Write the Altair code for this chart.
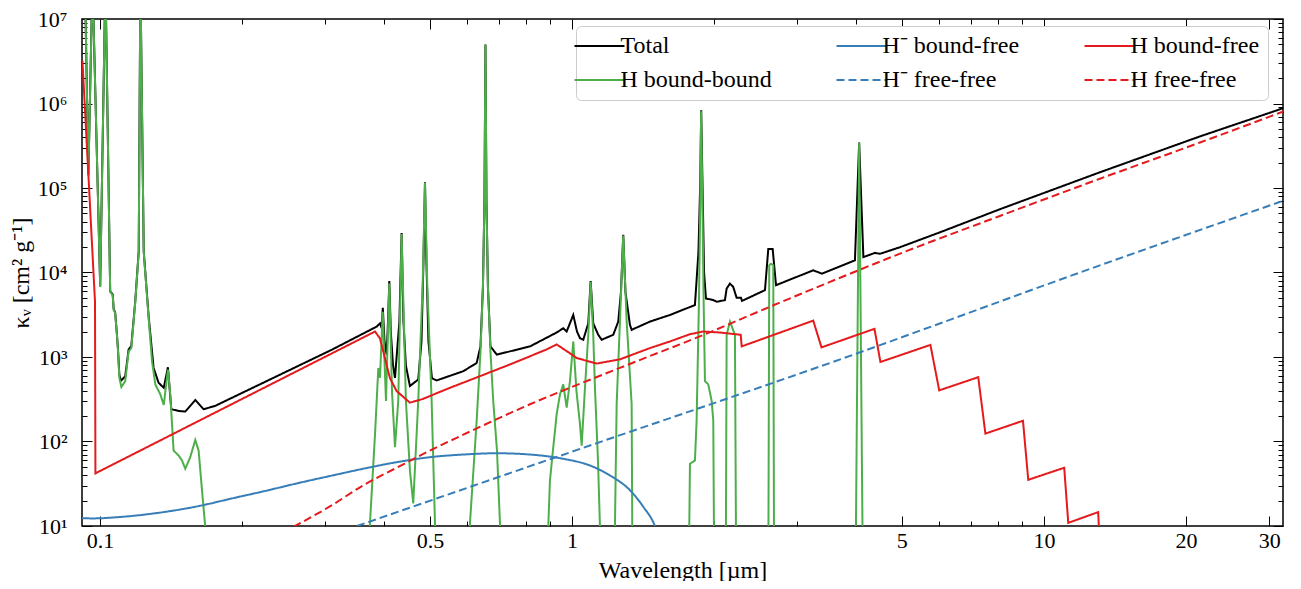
import altair as alt
import pandas as pd

# ---------------- data ----------------
total_lam = [0.0916, 0.0929, 0.0945, 0.0964, 0.1001, 0.1027, 0.1051, 0.1064, 0.1069, 0.1077,
             0.1086, 0.1092, 0.1099, 0.1105, 0.1110, 0.1131, 0.1150, 0.1165, 0.1188, 0.1208,
             0.1218, 0.1238, 0.1268, 0.1299, 0.1331, 0.1365, 0.1393, 0.1416, 0.1468, 0.1516,
             0.1592, 0.1658, 0.1754, 0.3101, 0.3858, 0.3920, 0.3953, 0.3974, 0.4007, 0.4049,
             0.4076, 0.4102, 0.4132, 0.4177, 0.4217, 0.4309, 0.4356, 0.4395, 0.4448, 0.4536,
             0.4724, 0.4799, 0.4846, 0.4882, 0.4916, 0.4965, 0.5050, 0.5167, 0.5885, 0.6282,
             0.6400, 0.6477, 0.6525, 0.6557, 0.6590, 0.6637, 0.6719, 0.6929, 0.8149, 0.9281,
             0.9585, 0.9745, 1.0064, 1.0247, 1.0398, 1.0567, 1.0828, 1.0955, 1.1094, 1.1368,
             1.1559, 1.2231, 1.2534, 1.2701, 1.2842, 1.2980, 1.3269, 1.3380, 1.463, 1.613,
             1.822, 1.8535, 1.8698, 1.8784, 1.8902, 1.905, 1.9226, 1.9925, 2.026, 2.109,
             2.1268, 2.1613, 2.196, 2.233, 2.281, 2.292, 2.564, 2.606, 2.662, 2.706,
             3.245, 3.384, 3.977, 4.0597, 4.144, 4.385, 4.493, 4.955, 6.022, 8.068,
             13.14, 21.41, 32.14]
total_kap = [3e7, 3e7, 1.45e5, 3e7, 6900, 3e7, 6000, 5500, 3700, 3350,
             1880, 1220, 620, 545, 530, 590, 1230, 1340, 4650, 1.78e4,
             3e7, 1.78e4, 3000, 742, 495, 432, 757, 241, 230, 226,
             310, 241, 264, 1221, 2292, 2506, 2189, 3832, 1528, 1067,
             2624, 7900, 2003, 790, 567, 2624, 2.93e4, 2624, 790, 453,
             542, 1528, 1.37e4, 1.17e5, 1.37e4, 1528, 560, 528, 679, 850,
             1335, 6760, 7.0e4, 5.0e6, 7.0e4, 6760, 1335, 1067, 1335, 1950,
             2189, 2003, 3145, 2003, 1671, 1600, 2500, 7900, 2500, 1831,
             1600, 1831, 2624, 5905, 2.8e4, 5905, 2400, 2097, 2624, 3145,
             4121, 1.74e4, 1.156e5, 8.3e5, 1.156e5, 1.0e4, 4926, 4717, 4506, 4717,
             6456, 7388, 6760, 5020, 5020, 4610, 6182, 1.9e4, 1.9e4, 7075,
             1.062e4, 9683, 1.391e4, 3.45e5, 1.521e4, 1.708e4, 1.663e4, 1.993e4, 2.99e4, 5.61e4,
             1.535e5, 4.08e5, 8.8e5]

hbb_lam = [0.0916, 0.0929, 0.0945, 0.0964, 0.1001, 0.1027, 0.1051, 0.1064, 0.1069, 0.1077,
           0.1086, 0.1092, 0.1099, 0.1110, 0.1131, 0.1150, 0.1165, 0.1188, 0.1208, 0.1218,
           0.1238, 0.1268, 0.1289, 0.1310, 0.1342, 0.1365, 0.1393, 0.1409, 0.1421, 0.1432,
           0.1468, 0.1492, 0.1516, 0.1553, 0.1592, 0.1618, 0.1645, 0.1671, 0.1685,
           0.3706, 0.3733, 0.3826, 0.3888, 0.3920, 0.3972, 0.4036, 0.4102, 0.4156, 0.4217,
           0.4285, 0.4356, 0.4448, 0.4536, 0.4610, 0.4724, 0.4827, 0.4882, 0.4937, 0.5043,
           0.5126, 0.5149,
           0.6050, 0.6080, 0.6282, 0.6400, 0.6477, 0.6525, 0.6557, 0.6590, 0.6637, 0.6719,
           0.6811, 0.6937, 0.7038, 0.7072,
           0.8811, 0.8908, 0.8982, 0.9129, 0.9281, 0.9432, 0.9585, 0.9745, 0.9903, 1.0064,
           1.0222, 1.0398, 1.0485, 1.0655, 1.0828, 1.0955, 1.1094, 1.1187, 1.1353, 1.1464,
           1.1520,
           1.2303, 1.2333, 1.2436, 1.2637, 1.2842, 1.3060, 1.3380, 1.3420, 1.3451,
           1.7655, 1.7724, 1.7783, 1.8220, 1.837, 1.858, 1.870, 1.878, 1.890, 1.901,
           1.9133, 1.9444, 1.9770, 1.9925, 1.9990, 2.0039,
           2.1142, 2.1195, 2.1268, 2.1613, 2.2146, 2.2255, 2.2309,
           2.6019, 2.6081, 2.6182, 2.6400, 2.6699, 2.6791, 2.6853,
           3.9866, 3.9966, 4.0597, 4.1258, 4.1355]
hbb_kap = [3e7, 3e7, 1.4e5, 3e7, 6760, 3e7, 5905, 5400, 3628, 3284,
           1831, 1166, 567, 441, 518, 1166, 1275, 4506, 1.74e4, 3e7,
           1.74e4, 2870, 890, 474, 362, 271, 711, 362, 161, 78.1,
           68.2, 59.6, 47.6, 65.2, 104.3, 78.1, 26.5, 9.8, 3,
           3, 10.8, 122.6, 742, 567, 3438, 302, 7388, 395, 85.4,
           302, 2.856e4, 302, 45.5, 18.5, 302, 7075, 1.156e5, 7075, 302,
           10.8, 3,
           3, 10.8, 176, 1166, 6760, 6.73e4, 4.95e6, 6.73e4, 6760, 1166,
           302, 78.1, 10.8, 3,
           3, 9.8, 34.7, 85.4, 210.6, 362, 474, 252, 518, 1528,
           395, 161, 89.4, 432, 1831, 7740, 1831, 432, 59.6, 9.8,
           3,
           3, 9.8, 276, 2624, 2.735e4, 2624, 276, 9.8, 3,
           3, 9.8, 54.5, 59.6, 176, 4506, 6.73e4, 8.09e5, 6.73e4, 4506,
           518, 474, 302, 176, 9.8, 3,
           3, 9.8, 1831, 2624, 1831, 9.8, 3,
           3, 9.8, 1.215e4, 1.269e4, 1.215e4, 9.8, 3,
           3, 9.8, 3.41e5, 9.8, 3]

hmbf_lam = [0.0916, 0.0962, 0.1124, 0.1375, 0.1618, 0.1904, 0.2240, 0.2636, 0.3101, 0.3612,
            0.4251, 0.5001, 0.5885, 0.6929, 0.8149, 0.9585, 1.0917, 1.2035, 1.327, 1.416,
            1.499, 1.56]
hmbf_kap = [12.4, 12.3, 12.9, 14.7, 17.2, 21.2, 26.0, 32.3, 39.5, 47.6,
            56.9, 65.2, 70.1, 72.6, 70.1, 62.4, 52.0, 39.7, 26.5, 16.9,
            10.0, 5.0]

hmff_lam = [0.3503, 1.040, 3.521, 13.14, 32.09]
hmff_kap = [10.0, 81.7, 850, 1.215e4, 7.04e4]

hbf_lam = [0.0918, 0.0976, 0.0978, 0.3826, 0.392, 0.4016, 0.4115, 0.4251, 0.4536, 0.4834,
           0.5427, 0.6384, 0.750, 0.8842, 0.9281, 0.9903, 1.0232, 1.128, 1.264, 1.463,
           1.613, 1.778, 1.897, 2.059, 2.278, 2.289, 3.245, 3.378, 4.374, 4.504,
           5.747, 6.000, 7.258, 7.516, 9.028, 9.263, 11.04, 11.26, 13.03, 13.11]
hbf_kap = [3.2e6, 4.5e3, 42, 2003, 1657, 965, 562, 395, 288, 319,
           417, 593, 843, 1231, 1409, 1105, 973, 836, 939, 1275,
           1528, 1861, 2003, 1949, 1831, 1335, 2696, 1299, 2154, 873,
           1390, 403, 577, 124, 176, 35.2, 48.9, 10.9, 14.6, 6.9]

hff_lam = [0.2573, 0.3101, 0.3612, 0.4251, 0.5001, 0.5885, 0.6929, 0.8149, 0.9903, 1.371,
           1.897, 2.628, 3.521, 4.955, 8.068, 13.14, 21.41, 32.14]
hff_kap = [9.8, 17.65, 30.3, 48.9, 78.1, 120.3, 184, 276, 432, 890,
           1821, 3936, 7740, 1.672e4, 4.67e4, 1.287e5, 3.453e5, 8.03e5]

# legend entries in the reference's column-by-column order
legend_order = ["Total", "H bound-bound", "H⁻ bound-free",
                "H⁻ free-free", "H bound-free", "H free-free"]
series_colors = ["#000000", "#4daf4a", "#377eb8", "#377eb8", "#e41a1c", "#e41a1c"]
series_dashes = [[1, 0], [1, 0], [1, 0], [8, 4], [1, 0], [8, 4]]

x_major = [0.1, 0.5, 1, 5, 10, 20, 30]
x_minor = [0.2, 0.3, 0.4, 0.6, 0.7, 0.8, 0.9, 2, 3, 4, 6, 7, 8, 9]
y_major = [1e1, 1e2, 1e3, 1e4, 1e5, 1e6, 1e7]
y_major_labels = ["10¹", "10²", "10³", "10⁴", "10⁵", "10⁶", "10⁷"]
y_minor = [m * 10 ** e for e in range(1, 7) for m in range(2, 10)]

# ---------------- table ----------------
series = [
    ("Total", total_lam, total_kap, "linear"),
    ("H bound-bound", hbb_lam, hbb_kap, "linear"),
    ("H⁻ bound-free", hmbf_lam, hmbf_kap, "monotone"),
    ("H⁻ free-free", hmff_lam, hmff_kap, "monotone"),
    ("H bound-free", hbf_lam, hbf_kap, "linear"),
    ("H free-free", hff_lam, hff_kap, "monotone"),
]
rows = []
for name, lam, kap, _ in series:
    for i, (l, k) in enumerate(zip(lam, kap)):
        rows.append({"series": name, "lam": l, "kappa": k, "idx": i})
df = pd.DataFrame(rows)

W, H = 1201, 507
FONT = "Liberation Serif"

xscale = alt.Scale(type="log", domain=[0.0916, 32.1], nice=False)
yscale = alt.Scale(type="log", domain=[10, 1e7], nice=False)

labels_js = "[" + ",".join("'" + s + "'" for s in y_major_labels) + "]"


def tick_axis(orient, values, size, offset):
    return alt.Axis(orient=orient, values=values, offset=offset, tickSize=size,
                    ticks=True, labels=False, domain=False, grid=False, title=None,
                    tickColor="black", tickWidth=1)


x_axes = [
    alt.Axis(orient="bottom", values=x_major, format="~g", ticks=False, labels=True,
             domain=False, grid=False, title="Wavelength [µm]", labelPadding=4,
             titlePadding=7),
    tick_axis("top", x_major, 10, -H),
    tick_axis("top", x_minor, 5, -H),
    tick_axis("bottom", x_major, 10, -H),
    tick_axis("bottom", x_minor, 5, -H),
]
y_axes = [
    alt.Axis(orient="left", values=y_major, labelExpr=labels_js + "[round(log(datum.value)/LN10)-1]",
             ticks=False, domain=False, grid=False, title="κᵥ [cm² g⁻¹]",
             labelPadding=15, titlePadding=4),
    tick_axis("right", y_major, 10, -W),
    tick_axis("right", y_minor, 5, -W),
    tick_axis("left", y_major, 10, -W),
    tick_axis("left", y_minor, 5, -W),
]

legend = alt.Legend(title=None, orient="none", legendX=494, legendY=7, columns=3,
                    symbolType="M-5,0H5", symbolSize=100, symbolOffset=3.5,
                    symbolStrokeWidth=2, labelOffset=9, labelFont=FONT,
                    labelFontSize=24, labelColor="black", labelLimit=400,
                    padding=8, rowPadding=10, columnPadding=60,
                    fillColor="white", strokeColor="#cccccc", cornerRadius=5)

color = alt.Color("series:N", scale=alt.Scale(domain=legend_order, range=series_colors),
                  legend=legend)
dash = alt.StrokeDash("series:N", scale=alt.Scale(domain=legend_order, range=series_dashes),
                      legend=legend)

base = alt.Chart(df)
layers = []
for i, (name, _, _, interp) in enumerate(series):
    xa = x_axes[i] if i < len(x_axes) else None
    ya = y_axes[i] if i < len(y_axes) else None
    layers.append(
        base.transform_filter(alt.datum.series == name)
        .mark_line(clip=True, strokeWidth=2, interpolate=interp)
        .encode(
            x=alt.X("lam:Q", scale=xscale, axis=xa),
            y=alt.Y("kappa:Q", scale=yscale, axis=ya),
            color=color,
            strokeDash=dash,
            order=alt.Order("idx:Q"),
        )
    )

chart = (
    alt.layer(*layers)
    .resolve_axis(x="independent", y="independent")
    .properties(width=W, height=H,
                autosize=alt.AutoSizeParams(type="none"),
                padding={"left": 74, "top": 11, "right": 10, "bottom": 55})
    .configure(font=FONT)
    .configure_view(stroke="black", strokeWidth=1.5)
    .configure_axis(labelFont=FONT, labelFontSize=22, labelColor="black",
                    titleFont=FONT, titleFontSize=24, titleFontWeight="normal",
                    titleColor="black")
)

chart.save("out.html", embed_options={"renderer": "svg", "actions": False})
